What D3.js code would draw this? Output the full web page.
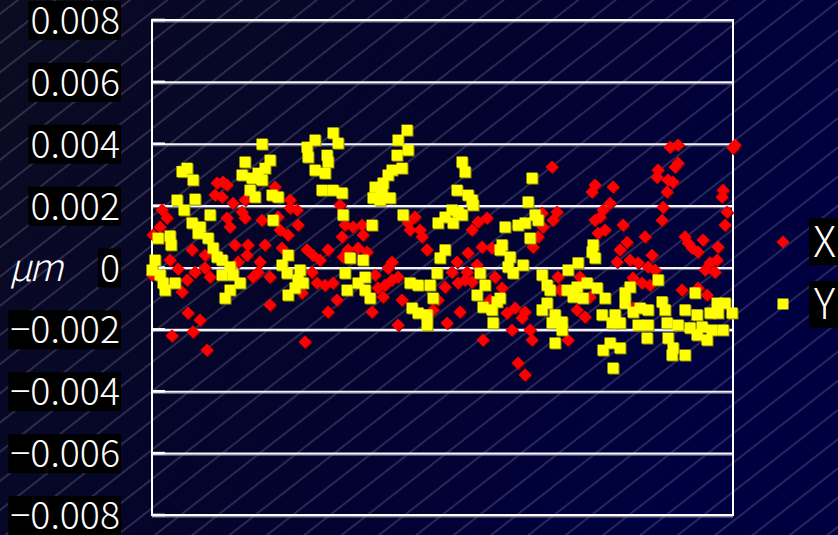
<!DOCTYPE html>
<html>
<head>
<meta charset="utf-8">
<script src="https://cdn.jsdelivr.net/npm/d3@7"></script>
<style>
  html, body { margin: 0; padding: 0; background: #05051e; }
  svg { display: block; }
</style>
</head>
<body>
<svg id="chart" width="838" height="535"></svg>
<script>
// X-axis deviation: sample position along the scan and deviation value
const xPos = [0,1,8,10,15,18,20,26,30,35,36,40,41,43,48,53,53,55,58,63,65,70,71,75,75,78,81,83,86,90,93,93,95,96,
  101,106,108,110,113,118,118,123,126,128,130,136,138,138,145,146,150,153,155,160,161,165,168,173,176,176,181,185,188,190,191,193,196,
  201,206,210,211,215,220,223,226,231,233,236,240,240,246,246,250,256,258,263,268,270,275,281,286,293,295,
  300,305,306,308,313,315,316,320,320,325,326,330,331,335,338,340,343,350,355,360,363,366,370,373,373,378,380,381,386,390,391,
  400,401,405,406,408,416,425,428,433,438,440,443,443,446,448,451,453,458,461,465,468,471,475,478,481,481,486,490,493,496,498,
  500,503,505,506,510,511,515,516,518,521,523,526,526,530,533,536,540,546,546,551,553,555,558,563,565,566,570,571,573,575,581,583];
const xDev = [-0.00024,0.00105,0.00131,0.00186,0.00160,0.00024,-0.00221,-0.00005,-0.00079,-0.00040,-0.00147,0.00057,-0.00208,-0.00015,-0.00170,0.00040,-0.00002,-0.00267,-0.00031,0.00234,0.00273,0.00228,0.00276,0.00267,0.00160,0.00131,0.00208,0.00073,0.00018,0.00179,0.00218,0.00160,0.00040,0.00073,
  -0.00031,-0.00015,0.00018,0.00153,0.00073,-0.00031,-0.00121,0.00260,0.00163,0.00121,0.00063,0.00105,0.00218,0.00192,0.00186,0.00137,-0.00082,-0.00241,0.00057,-0.00015,0.00040,-0.00050,0.00024,-0.00057,0.00057,-0.00144,-0.00050,-0.00105,0.00202,0.00099,0.00034,0.00137,0.00057,
  0.00131,0.00063,0.00137,0.00105,0.00050,-0.00144,-0.00024,-0.00066,-0.00095,-0.00057,-0.00002,0.00018,-0.00040,-0.00031,-0.00186,-0.00105,0.00144,0.00121,0.00163,0.00121,0.00099,0.00057,-0.00137,-0.00105,-0.00063,-0.00179,
  -0.00015,0.00018,-0.00050,-0.00144,-0.00040,-0.00015,0.00047,0.00121,-0.00047,0.00008,0.00147,0.00066,-0.00234,0.00160,-0.00105,0.00063,-0.00031,-0.00066,-0.00147,-0.00202,-0.00131,-0.00309,-0.00163,-0.00144,-0.00347,-0.00202,-0.00234,0.00066,0.00099,0.00176,0.00131,
  0.00325,0.00153,0.00179,-0.00031,-0.00073,-0.00234,-0.00137,-0.00031,-0.00160,-0.00095,0.00244,0.00267,0.00153,0.00111,0.00163,0.00186,0.00121,0.00208,0.00260,0.00018,0.00057,0.00137,0.00082,0.00024,-0.00034,-0.00131,0.00015,-0.00050,0.00099,0.00002,-0.00057,
  0.00040,-0.00008,0.00292,0.00315,0.00153,0.00195,0.00244,0.00283,0.00389,0.00276,0.00325,0.00396,0.00338,-0.00073,0.00099,0.00079,0.00063,0.00050,-0.00066,0.00089,-0.00008,-0.00089,0.00015,-0.00015,0.00024,0.00066,0.00228,0.00250,0.00137,0.00179,0.00386,0.00396];

// Y-axis deviation: sample position along the scan and deviation value
const yPos = [0,3,6,8,11,13,18,19,23,25,30,32,35,40,41,43,46,48,56,58,61,65,70,70,73,78,78,81,88,90,93,98,
  100,103,106,110,110,113,118,120,121,126,130,135,136,136,143,146,148,151,155,156,163,163,170,173,175,176,181,181,186,190,191,193,195,198,
  206,211,213,213,218,220,221,223,228,230,231,236,238,240,245,246,250,251,255,256,258,260,266,266,275,275,278,281,285,286,288,293,293,
  300,301,305,306,310,310,313,316,320,321,325,328,331,333,340,341,345,348,348,350,353,356,358,361,366,371,373,376,378,380,383,386,390,390,395,395,398,
  400,403,403,410,410,415,416,421,425,426,431,435,440,441,443,445,450,451,453,458,460,461,463,468,468,473,473,478,481,486,488,495,496,496,
  506,510,513,515,516,520,521,526,533,533,538,543,545,545,550,555,558,560,565,566,571,573,580];
const yDev = [-0.00008,0.00024,0.00095,-0.00024,-0.00050,-0.00073,0.00102,0.00073,-0.00050,0.00218,0.00310,0.00186,0.00321,0.00144,0.00283,0.00221,0.00111,0.00131,0.00095,0.00170,0.00063,0.00034,0.00024,-0.00024,-0.00099,0.00002,-0.00073,-0.00024,-0.00050,0.00299,0.00341,0.00250,
  0.00289,0.00228,0.00305,0.00399,0.00283,0.00321,0.00347,0.00234,0.00153,0.00228,0.00008,-0.00018,0.00040,-0.00089,-0.00066,-0.00040,-0.00008,-0.00050,0.00389,0.00357,0.00412,0.00315,0.00250,0.00305,0.00363,0.00341,0.00435,0.00250,0.00402,0.00241,0.00170,-0.00018,-0.00073,0.00031,
  -0.00050,0.00024,-0.00031,-0.00073,-0.00099,0.00137,0.00225,0.00260,0.00218,0.00250,0.00273,0.00299,0.00225,0.00315,0.00363,0.00412,0.00321,0.00170,0.00444,0.00380,-0.00050,-0.00131,-0.00057,-0.00147,-0.00153,-0.00186,-0.00057,-0.00099,-0.00018,0.00144,0.00031,0.00163,0.00057,
  0.00186,0.00144,0.00250,0.00179,0.00341,0.00170,0.00309,0.00234,0.00218,0.00202,-0.00089,-0.00018,-0.00128,-0.00057,-0.00137,-0.00179,-0.00111,0.00057,-0.00099,0.00073,0.00131,0.00002,0.00034,-0.00018,0.00137,0.00008,0.00144,0.00212,0.00095,0.00289,0.00170,0.00153,-0.00024,-0.00137,-0.00057,-0.00115,-0.00073,
  -0.00179,-0.00153,-0.00244,-0.00176,-0.00202,-0.00073,-0.00008,-0.00095,-0.00063,0.00015,-0.00099,-0.00050,0.00050,0.00073,0.00031,-0.00066,-0.00153,-0.00267,-0.00099,-0.00244,-0.00179,-0.00325,-0.00153,-0.00179,-0.00260,-0.00082,-0.00115,-0.00063,-0.00144,-0.00186,-0.00131,-0.00228,-0.00137,-0.00186,
  -0.00040,-0.00111,-0.00137,-0.00179,-0.00228,-0.00283,-0.00260,-0.00186,-0.00137,-0.00283,-0.00195,-0.00082,-0.00153,-0.00218,-0.00192,-0.00234,-0.00147,-0.00202,-0.00115,-0.00147,-0.00202,-0.00115,-0.00147];

const tickValues = [0.008, 0.006, 0.004, 0.002, 0, -0.002, -0.004, -0.006, -0.008];
const tickLabels = ["0.008", "0.006", "0.004", "0.002", "0", "\u22120.002", "\u22120.004", "\u22120.006", "\u22120.008"];
const unitLabel = "\u03BCm";
const seriesNames = ["X", "Y"];

const W = 838, H = 535;
const plot = { left: 152, right: 733, top: 20, bottom: 515 };
const labelFont = "'Noto Sans CJK KR', 'Liberation Sans', sans-serif";

const svg = d3.select("#chart");
const defs = svg.append("defs");

// navy backdrop
const grad = defs.append("linearGradient").attr("id", "bg").attr("x1", 0).attr("y1", 0).attr("x2", 1).attr("y2", 0.3);
grad.append("stop").attr("offset", "0%").attr("stop-color", "#0b0b21");
grad.append("stop").attr("offset", "55%").attr("stop-color", "#03032e");
grad.append("stop").attr("offset", "100%").attr("stop-color", "#000040");

// thin diagonal hatching
const hatch = defs.append("pattern").attr("id", "hatch")
  .attr("patternUnits", "userSpaceOnUse").attr("width", 60).attr("height", 23)
  .attr("patternTransform", "rotate(-38)");
hatch.append("line").attr("x1", 0).attr("x2", 60).attr("y1", 11).attr("y2", 11)
  .attr("stroke", "#a8a8c8").attr("stroke-opacity", 0.5).attr("stroke-width", 0.9);

svg.append("rect").attr("width", W).attr("height", H).attr("fill", "url(#bg)");
svg.append("rect").attr("width", W).attr("height", H).attr("fill", "url(#hatch)");

const x = d3.scaleLinear().domain([0, 581]).range([plot.left, plot.right]);
const y = d3.scaleLinear().domain([-0.008, 0.008]).range([plot.bottom, plot.top]);

// horizontal grid lines
const grid = svg.append("g").attr("transform", `translate(${plot.right},0)`)
  .call(d3.axisLeft(y).tickValues(tickValues).tickSize(plot.right - plot.left).tickFormat(""));
grid.select(".domain").remove();
grid.selectAll(".tick line").attr("stroke", "#f4f4f8").attr("stroke-width", 2.2);
grid.selectAll(".tick").append("line")
  .attr("x1", 0).attr("x2", -(plot.right - plot.left)).attr("y1", 1.6).attr("y2", 1.6)
  .attr("stroke", "#8c8ca4").attr("stroke-width", 0.8);

// short tick marks on the inside of the left edge
svg.append("g").selectAll("line").data(tickValues).join("line")
  .attr("x1", plot.left).attr("x2", plot.left + 13)
  .attr("y1", d => y(d)).attr("y2", d => y(d))
  .attr("stroke", "#ffffff").attr("stroke-width", 2.6);

// plot frame
svg.append("rect").attr("x", plot.left).attr("y", plot.top)
  .attr("width", plot.right - plot.left).attr("height", plot.bottom - plot.top)
  .attr("fill", "none").attr("stroke", "#ffffff").attr("stroke-width", 2);

// tick labels on black plates
const labels = svg.append("g");
tickValues.forEach((v, i) => {
  const g = labels.append("g");
  const t = g.append("text").attr("x", 120).attr("y", y(v) + 14)
    .attr("text-anchor", "end").attr("fill", "#ffffff")
    .attr("font-family", labelFont).attr("font-weight", 300).attr("font-size", 37.5)
    .text(tickLabels[i]);
  const b = t.node().getBBox();
  g.insert("rect", "text").attr("x", b.x - 2).attr("y", y(v) - 19)
    .attr("width", 121 - (b.x - 2)).attr("height", 39).attr("fill", "#000000");
});

// unit label
svg.append("text").attr("x", 9).attr("y", 281)
  .attr("fill", "#ffffff").attr("font-family", labelFont).attr("font-weight", 300)
  .attr("font-style", "italic").attr("font-size", 38).attr("letter-spacing", -3)
  .text(unitLabel);

const diamond = "M0,-6.5L6.5,0L0,6.5L-6.5,0Z";
const squareSide = 11;

// X series: red diamonds
const xData = xPos.map((p, i) => ({ p, v: xDev[i] }));
const gx = svg.append("g");
gx.selectAll("path.sh").data(xData).join("path").attr("class", "sh")
  .attr("d", diamond).attr("transform", d => `translate(${x(d.p) + 0.8},${y(d.v) + 0.8})`)
  .attr("fill", "#8a0000");
gx.selectAll("path.pt").data(xData).join("path").attr("class", "pt")
  .attr("d", diamond).attr("transform", d => `translate(${x(d.p)},${y(d.v)})`)
  .attr("fill", "#ff0000");

// Y series: yellow squares
const yData = yPos.map((p, i) => ({ p, v: yDev[i] }));
const gy = svg.append("g");
gy.selectAll("rect.sh").data(yData).join("rect").attr("class", "sh")
  .attr("x", d => x(d.p) - squareSide / 2 + 1).attr("y", d => y(d.v) - squareSide / 2 + 1)
  .attr("width", squareSide).attr("height", squareSide).attr("fill", "#8c8c00");
gy.selectAll("rect.pt").data(yData).join("rect").attr("class", "pt")
  .attr("x", d => x(d.p) - squareSide / 2).attr("y", d => y(d.v) - squareSide / 2)
  .attr("width", squareSide).attr("height", squareSide).attr("fill", "#ffff00");

// legend
const legend = svg.append("g");
const legendRows = [{ name: seriesNames[0], cy: 242, boxY: 218 }, { name: seriesNames[1], cy: 304, boxY: 281 }];
legend.append("path").attr("d", diamond).attr("transform", `translate(783,${legendRows[0].cy})`).attr("fill", "#ff0000");
legend.append("rect").attr("x", 783 - squareSide / 2).attr("y", legendRows[1].cy - squareSide / 2)
  .attr("width", squareSide).attr("height", squareSide).attr("fill", "#ffff00");
legendRows.forEach(r => {
  legend.append("rect").attr("x", 809).attr("y", r.boxY).attr("width", 29).attr("height", 47).attr("fill", "#000000");
  legend.append("text").attr("x", 824.5).attr("y", r.cy + 15).attr("text-anchor", "middle")
    .attr("fill", "#ffffff").attr("font-family", labelFont).attr("font-weight", 300).attr("font-size", 42).text(r.name);
});
</script>
</body>
</html>
